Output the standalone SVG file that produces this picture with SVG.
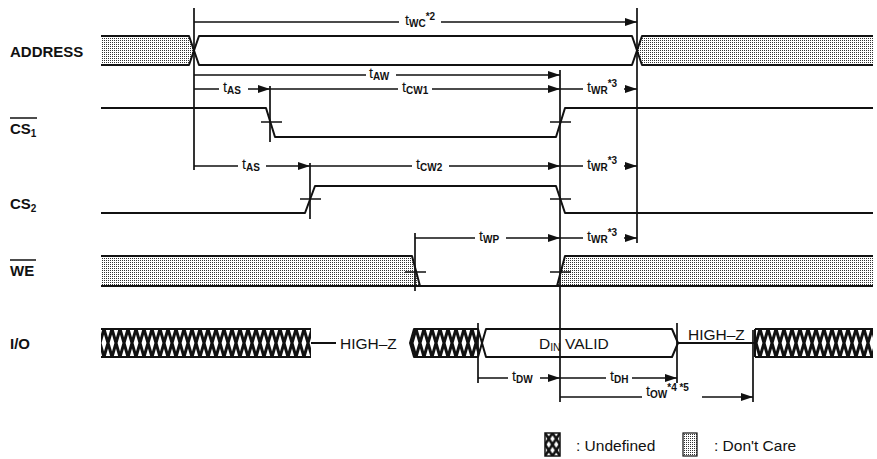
<svg xmlns="http://www.w3.org/2000/svg" width="877" height="459" viewBox="0 0 877 459">
<style>
.sig{fill:none;stroke:#111;stroke-width:2;stroke-linejoin:round}
.vl{fill:none;stroke:#111;stroke-width:1.7}
.dim{fill:none;stroke:#111;stroke-width:1.6;marker-end:url(#ah)}
.tk{fill:none;stroke:#111;stroke-width:1.7}
.lbl{font-family:"Liberation Sans",Arial,sans-serif;font-size:15px;font-weight:bold;fill:#111}
.tl{font-family:"Liberation Sans",Arial,sans-serif;font-size:14.5px;fill:#111}
.sb{font-size:10px;font-weight:bold}
.txt{font-family:"Liberation Sans",Arial,sans-serif;font-size:15.5px;fill:#111}
.dc{fill:url(#dots)}
.un{fill:url(#hatch)}
</style>
<defs>
<marker id="ah" markerUnits="userSpaceOnUse" markerWidth="12" markerHeight="8" refX="12" refY="4" orient="auto">
<path d="M0,0 L12,4 L0,8 z" fill="#111"/>
</marker>
<pattern id="dots" patternUnits="userSpaceOnUse" width="2" height="2">
<rect width="2" height="2" fill="#fff"/>
<rect width="1" height="1" fill="#333"/>
</pattern>
<pattern id="hatch" patternUnits="userSpaceOnUse" x="0" y="329" width="8" height="28">
<rect width="8" height="28" fill="#fff"/>
<path d="M0,0 L8,28 M8,0 L0,28 M-8,0 L0,28 M16,0 L8,28" stroke="#111" stroke-width="3"/>
</pattern>
<pattern id="hatch2" patternUnits="userSpaceOnUse" x="545" y="433" width="7.5" height="11.5">
<rect width="7.5" height="11.5" fill="#fff"/>
<path d="M0,0 L7.5,11.5 M7.5,0 L0,11.5" stroke="#111" stroke-width="2.6"/>
</pattern>
</defs>

<g id="labels">
<text class="lbl" x="10" y="57">ADDRESS</text>
<text class="lbl" x="10" y="134">CS<tspan font-size="10" dy="3">1</tspan></text>
<line x1="10" y1="118" x2="37" y2="118" stroke="#111" stroke-width="1.5"/>
<text class="lbl" x="10" y="209">CS<tspan font-size="10" dy="3">2</tspan></text>
<text class="lbl" x="10" y="276">WE</text>
<line x1="10" y1="260" x2="36" y2="260" stroke="#111" stroke-width="1.5"/>
<text class="lbl" x="10" y="349">I/O</text>
</g>

<g id="address">
<polygon class="dc" points="101,36 189,36 194,50.5 189,65 101,65"/>
<polygon class="dc" points="637,50.5 642,36 873,36 873,65 642,65"/>
<path class="sig" d="M101,36 L189,36 L199,65 L632,65 L642,36 L873,36"/>
<path class="sig" d="M101,65 L189,65 L199,36 L632,36 L642,65 L873,65"/>
</g>

<g id="cs1">
<path class="sig" d="M101,108 L266,108 L275,137 L556,137 L565,108 L873,108"/>
<path class="tk" d="M261,122 H282 M550,122 H571"/>
</g>

<g id="cs2">
<path class="sig" d="M101,213 L305,213 L315,186 L556,186 L565,213 L873,213"/>
<path class="tk" d="M300,199 H321 M550,199 H571"/>
</g>

<g id="we">
<polygon class="dc" points="101,256 412,256 420,286 101,286"/>
<polygon class="dc" points="557,286 565,256 873,256 873,286"/>
<path class="sig" d="M101,256 L412,256 L420,286"/>
<path class="sig" d="M101,286 L873,286"/>
<path class="sig" d="M557,286 L565,256 L873,256"/>
<path class="tk" d="M405,272 H426 M550,272 H571"/>
</g>

<g id="io">
<rect class="un" x="101" y="329" width="210" height="28"/>
<path class="sig" d="M101,329 H311 M101,357 H311"/>
<path class="sig" d="M311,343 H336"/>
<text class="txt" x="340" y="349">HIGH–Z</text>
<polygon class="un" points="410,343 414,329 478,329 482,343 478,357 414,357"/>
<path class="sig" d="M410,343 L414,329 H478 L482,343 L478,357 H414 Z"/>
<polygon points="482,343 486,329 672,329 678,343 672,357 486,357" fill="#fff" stroke="#111" stroke-width="2" stroke-linejoin="round"/>
<text class="txt" x="539" y="349">D<tspan font-size="10.5" dy="2">IN</tspan><tspan dy="-2"> VALID</tspan></text>
<path class="sig" d="M678,343 H755"/>
<text class="txt" x="688" y="340">HIGH–Z</text>
<rect class="un" x="755" y="329" width="118" height="28"/>
<path class="sig" d="M755,329 H873 M755,357 H873 M755,329 V357"/>
</g>

<g id="legend">
<rect x="545" y="433" width="15" height="23" fill="url(#hatch2)" stroke="#111" stroke-width="1.5"/>
<text class="txt" x="576" y="451">: Undefined</text>
<rect x="683" y="433" width="14" height="23" class="dc" stroke="#111" stroke-width="1.2"/>
<text class="txt" x="714" y="451">: Don't Care</text>
</g>

<g id="connectors">
<path class="vl" d="M194,8 V170 M637,8 V243 M270,86 V142 M310,163 V219 M415,233 V291 M560,70 V402 M478,323 V383 M677,323 V383 M753,330 V402"/>
<path class="dim" d="M399,22 H194 M441,22 H637"/>
<path class="dim" d="M366,75 H194 M396,75 H560"/>
<path class="dim" d="M219,89 H194 M248,89 H270"/>
<path class="dim" d="M398,89 H270 M432,89 H560"/>
<path class="dim" d="M583,89 H560 M624,89 H637"/>
<path class="dim" d="M238,166 H194 M266,166 H310"/>
<path class="dim" d="M412,166 H310 M449,166 H560"/>
<path class="dim" d="M583,166 H560 M624,166 H637"/>
<path class="dim" d="M475,238 H415 M506,238 H560"/>
<path class="dim" d="M583,238 H560 M624,238 H637"/>
<path class="dim" d="M508,378 H478 M540,378 H560"/>
<path class="dim" d="M606,378 H560 M632,378 H677"/>
<path class="dim" d="M642,397 H560 M702,397 H753"/>
</g>

<g id="timing-labels">
<text class="tl" x="405" y="25">t<tspan class="sb" dy="2">WC</tspan><tspan class="sb" dy="-7">*2</tspan></text>
<text class="tl" x="369" y="78">t<tspan class="sb" dy="2">AW</tspan></text>
<text class="tl" x="223" y="92">t<tspan class="sb" dy="2">AS</tspan></text>
<text class="tl" x="402" y="92">t<tspan class="sb" dy="2">CW1</tspan></text>
<text class="tl" x="587" y="92">t<tspan class="sb" dy="2">WR</tspan><tspan class="sb" dy="-7">*3</tspan></text>
<text class="tl" x="242" y="169">t<tspan class="sb" dy="2">AS</tspan></text>
<text class="tl" x="416" y="169">t<tspan class="sb" dy="2">CW2</tspan></text>
<text class="tl" x="587" y="169">t<tspan class="sb" dy="2">WR</tspan><tspan class="sb" dy="-7">*3</tspan></text>
<text class="tl" x="479" y="241">t<tspan class="sb" dy="2">WP</tspan></text>
<text class="tl" x="587" y="241">t<tspan class="sb" dy="2">WR</tspan><tspan class="sb" dy="-7">*3</tspan></text>
<text class="tl" x="512" y="381">t<tspan class="sb" dy="2">DW</tspan></text>
<text class="tl" x="610" y="381">t<tspan class="sb" dy="2">DH</tspan></text>
<text class="tl" x="646" y="396">t<tspan class="sb" dy="2">OW</tspan><tspan class="sb" dy="-7">*4 *5</tspan></text>
</g>
</svg>
